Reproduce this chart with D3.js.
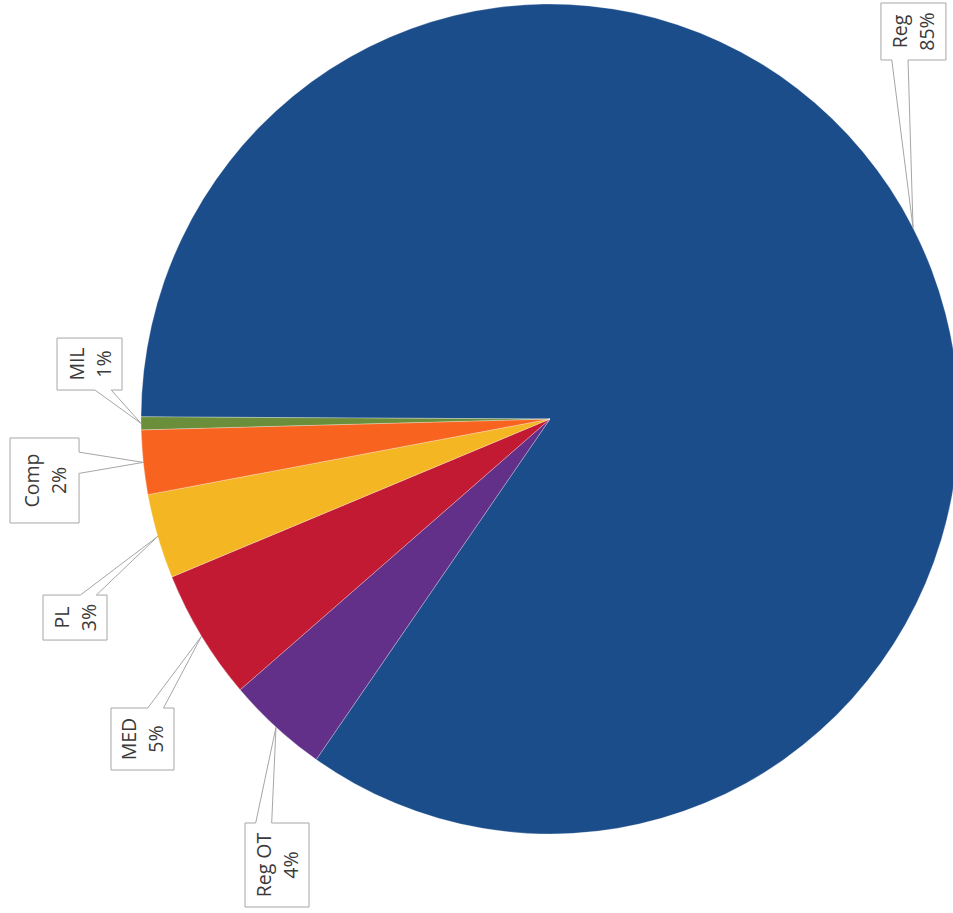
<!DOCTYPE html>
<html>
<head>
<meta charset="utf-8">
<script src="https://cdn.jsdelivr.net/npm/d3@7"></script>
<style>
  html, body { margin: 0; padding: 0; background: #ffffff; }
  svg { display: block; }
</style>
</head>
<body>
<svg id="chart" width="953" height="913"></svg>
<script>
// ---- data ----
const categories = ["Reg", "Reg OT", "MED", "PL", "Comp", "MIL"];
const values = [84.6, 4.0, 5.1, 3.3, 2.5, 0.5];
const percentLabels = ["85%", "4%", "5%", "3%", "2%", "1%"];
const colors = ["#1c4d8b", "#622f89", "#c31a33", "#f5b623", "#f8641f", "#6b8e3b"];

// ---- layout (callout box centre offset from tip, box size) ----
const calloutLayout = [
  { dx: 0.4,   dy: -196.4, w: 65, h: 57 },
  { dx: 1,     dy: 137.9,  w: 64, h: 84 },
  { dx: -59,   dy: 102.8,  w: 63, h: 62 },
  { dx: -82.7, dy: 81.1,   w: 64, h: 45 },
  { dx: -98.7, dy: 18.1,   w: 69, h: 85 },
  { dx: -51.5, dy: -59.3,  w: 65, h: 52 }
];

const cx = 550, cy = 419, rx = 409, ry = 415;
const startDeg = -89.7;

const svg = d3.select("#chart");
const rows = categories.map((c, i) => ({ name: c, value: values[i], pct: percentLabels[i], color: colors[i], lay: calloutLayout[i] }));

const pie = d3.pie().value(d => d.value).sort(null)
  .startAngle(startDeg * Math.PI / 180)
  .endAngle(startDeg * Math.PI / 180 + 2 * Math.PI);
const arcs = pie(rows);

const arc = d3.arc().innerRadius(0).outerRadius(ry);

const pieG = svg.append("g")
  .attr("transform", `translate(${cx},${cy}) scale(${rx / ry},1)`);

pieG.selectAll("path")
  .data(arcs)
  .join("path")
  .attr("d", arc)
  .attr("fill", d => d.data.color)
  .attr("stroke", "rgba(255,255,255,0.35)")
  .attr("stroke-width", 0.8);

// ---- callouts ----
function calloutPath(bx, by, w, h, tx, ty) {
  // wedgeRectCallout-like geometry
  const x0 = bx - w / 2, y0 = by - h / 2, x1 = bx + w / 2, y1 = by + h / 2;
  const ddx = (tx - bx) / w, ddy = (ty - by) / h;
  const p = d3.path();
  if (Math.abs(ddx) > Math.abs(ddy)) {
    const a = ty < by ? y0 + h * 2 / 12 : y0 + h * 7 / 12;
    const b = ty < by ? y0 + h * 5 / 12 : y0 + h * 10 / 12;
    p.moveTo(x0, y0); p.lineTo(x1, y0);
    if (tx > bx) { p.lineTo(x1, a); p.lineTo(tx, ty); p.lineTo(x1, b); }
    p.lineTo(x1, y1); p.lineTo(x0, y1);
    if (tx < bx) { p.lineTo(x0, b); p.lineTo(tx, ty); p.lineTo(x0, a); }
    p.closePath();
  } else {
    const a = tx < bx ? x0 + w * 2 / 12 : x0 + w * 7 / 12;
    const b = tx < bx ? x0 + w * 5 / 12 : x0 + w * 10 / 12;
    p.moveTo(x0, y0);
    if (ty < by) { p.lineTo(a, y0); p.lineTo(tx, ty); p.lineTo(b, y0); }
    p.lineTo(x1, y0); p.lineTo(x1, y1);
    if (ty > by) { p.lineTo(b, y1); p.lineTo(tx, ty); p.lineTo(a, y1); }
    p.lineTo(x0, y1); p.closePath();
  }
  return p.toString();
}

const labG = svg.append("g");
arcs.forEach(d => {
  const mid = (d.startAngle + d.endAngle) / 2;
  const tx = cx + rx * Math.sin(mid);
  const ty = cy - ry * Math.cos(mid);
  const L = d.data.lay;
  const bx = tx + L.dx, by = ty + L.dy;
  labG.append("path")
    .attr("d", calloutPath(bx, by, L.w, L.h, tx, ty))
    .attr("fill", "#ffffff")
    .attr("stroke", "#a6a6a6")
    .attr("stroke-width", 1);
  [d.data.name, d.data.pct].forEach((t, i) => {
    labG.append("text")
      .attr("transform", `translate(${bx + (i - 0.5) * 27},${by}) rotate(-90)`)
      .attr("text-anchor", "middle")
      .attr("dominant-baseline", "central")
      .attr("font-family", "'Open Sans', sans-serif")
      .attr("font-size", 19.5)
      .attr("fill", "#3a3a3a")
      .text(t);
  });
});
</script>
</body>
</html>
